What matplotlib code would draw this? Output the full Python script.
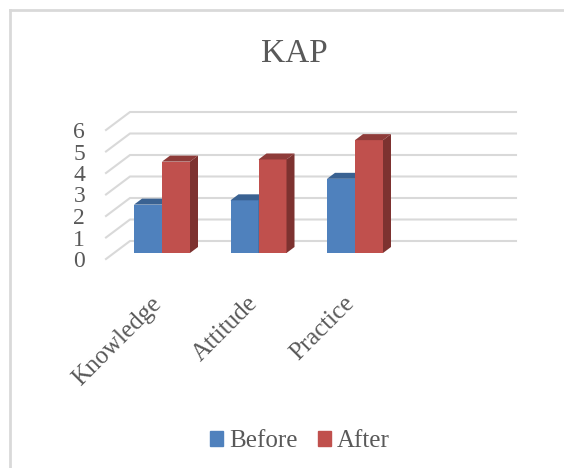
import matplotlib
matplotlib.use('Agg')
import matplotlib.pyplot as plt
from matplotlib.lines import Line2D
from matplotlib.patches import Polygon
from matplotlib.transforms import ScaledTranslation

categories = ["Knowledge", "Attitude", "Practice"]
before = [2.25, 2.45, 3.45]
after = [4.25, 4.35, 5.25]
y_ticks = [0, 1, 2, 3, 4, 5, 6]

W, H = 564, 468
PX_X = 96.5   # pixels per category
PX_Y = 21.5   # pixels per y unit

plt.rcParams['font.family'] = ['Liberation Serif', 'DejaVu Serif']

fig = plt.figure(figsize=(W / 100, H / 100), dpi=100)
# axes runs from the floor's front-left corner to the back wall's right end
ax = fig.add_axes([106 / W, (H - 259) / H, 410 / W, 146 / H])
ax.set_xlim(-56 / PX_X, 354 / PX_X)
ax.set_ylim(0, 146 / PX_Y)
ax.patch.set_visible(False)
for s in ax.spines.values():
    s.set_visible(False)

# walls
wall_dx = 24 / PX_X
wall_dy = 18 / PX_Y
x0 = ax.get_xlim()[0]
x1 = ax.get_xlim()[1]
for t in y_ticks:
    ax.plot([x0, x0 + wall_dx, x1], [t, t + wall_dy, t + wall_dy],
            color='#d9d9d9', lw=1.5, zorder=1, solid_joinstyle='round', clip_on=False)

# bars, front face plus top and side faces
bar_w = 28 / PX_X
bar_dx = 8 / PX_X
bar_dy = 6 / PX_Y
base = 6 / PX_Y


def bar3d(xc, v, front, top, side, z):
    xl = xc
    xr = xc + bar_w
    ax.bar(xl, v, bar_w, bottom=base, align='edge', color=front, zorder=z)
    yt = base + v
    ax.add_patch(Polygon([(xl, yt), (xr, yt), (xr + bar_dx, yt + bar_dy), (xl + bar_dx, yt + bar_dy)],
                         closed=True, color=top, lw=0, zorder=z))
    ax.add_patch(Polygon([(xr, base), (xr + bar_dx, base + bar_dy), (xr + bar_dx, yt + bar_dy), (xr, yt)],
                         closed=True, color=side, lw=0, zorder=z))


for i in range(len(categories)):
    bar3d(i - bar_w, before[i], '#4F81BD', '#3A6292', '#3A6292', 3)
    bar3d(i, after[i], '#C0504D', '#8E3B39', '#7D3230', 4)

ax.set_yticks(y_ticks)
ax.set_yticklabels([str(t) for t in y_ticks], fontsize=17, color='#595959')
ax.set_xticks(range(len(categories)))
ax.set_xticklabels(categories, rotation=45, ha='right', rotation_mode='anchor',
                   fontsize=18, color='#595959')
ax.tick_params(axis='both', length=0)
ax.tick_params(axis='y', pad=15)
ax.tick_params(axis='x', pad=24)
shift = ScaledTranslation(-12 / 100, 0, fig.dpi_scale_trans)
for lab in ax.get_xticklabels():
    lab.set_transform(lab.get_transform() + shift)

fig.text(294.5 / W, 1 - 54 / H, "KAP", fontsize=24, color='#595959', ha='center', va='center')

handles = [plt.Rectangle((0, 0), 1, 1, color='#4F81BD'), plt.Rectangle((0, 0), 1, 1, color='#C0504D')]
fig.legend(handles, ["Before", "After"], loc='center', bbox_to_anchor=(300 / W, 1 - 441 / H), ncol=2,
           frameon=False, fontsize=18, labelcolor='#595959', handlelength=0.52, handleheight=0.55,
           handletextpad=0.25, columnspacing=0.8, borderpad=0)

# chart frame, cropped at right and bottom
frame = dict(color='#d9d9d9', lw=2, transform=fig.transFigure)
fig.add_artist(Line2D([10 / W, 1], [1 - 10 / H, 1 - 10 / H], **frame))
fig.add_artist(Line2D([10 / W, 10 / W], [0, 1 - 10 / H], **frame))

fig.savefig('out.png', dpi=100)
